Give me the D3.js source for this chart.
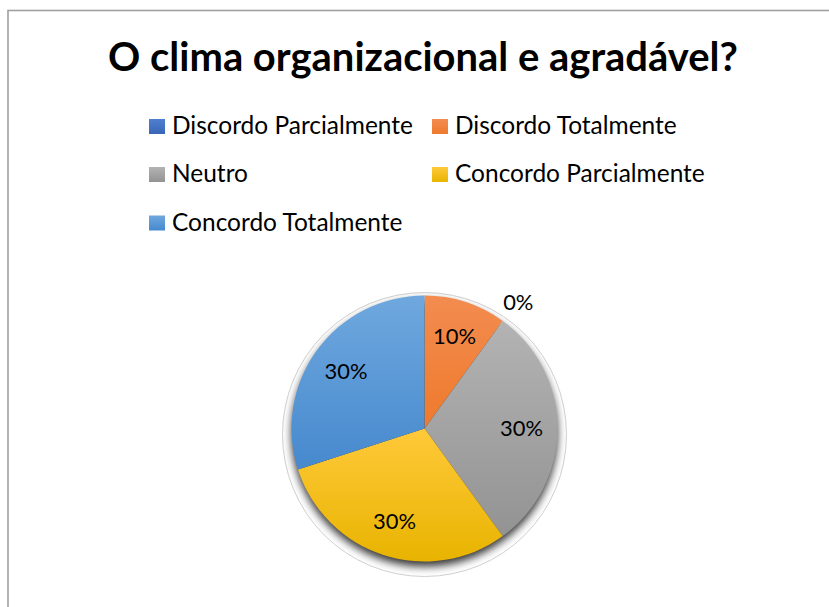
<!DOCTYPE html>
<html>
<head>
<meta charset="utf-8">
<script src="https://cdn.jsdelivr.net/npm/d3@7"></script>
<style>
  html, body { margin: 0; padding: 0; background: #fff; }
  svg { display: block; font-family: Lato, "Open Sans", sans-serif; }
</style>
</head>
<body>
<div id="chart"></div>
<script>
// chart data
const categories = ["Discordo Parcialmente", "Discordo Totalmente", "Neutro", "Concordo Parcialmente", "Concordo Totalmente"];
const values = [0, 10, 30, 30, 30];
const valueLabels = ["0%", "10%", "30%", "30%", "30%"];
const title = "O clima organizacional e agradável?";

const WIDTH = 829, HEIGHT = 607;
// slice colours: [top, bottom] of the vertical gradient
const colors = [
    ["#4f7fd0", "#3a66b8"],
    ["#f38c50", "#ee7a2c"],
    ["#b3b3b3", "#939393"],
    ["#ffc93a", "#e8b400"],
    ["#6fa8de", "#4689ce"]
];

const svg = d3.select("#chart")
              .append("svg")
              .attr("width", WIDTH)
              .attr("height", HEIGHT);

const defs = svg.append("defs");
colors.forEach((c, i) => {
    const g = defs.append("linearGradient")
                  .attr("id", "grad" + i)
                  .attr("x1", 0).attr("y1", 0).attr("x2", 0).attr("y2", 1);
    g.append("stop").attr("offset", "0%").attr("stop-color", c[0]);
    g.append("stop").attr("offset", "100%").attr("stop-color", c[1]);
});

// chart border (only left and top visible)
svg.append("rect")
   .attr("x", 8).attr("y", 10.5)
   .attr("width", 900).attr("height", 700)
   .attr("fill", "none")
   .attr("stroke", "#a0a0a0")
   .attr("stroke-width", 1.6);

// title, sized to the reference width
const titleText = svg.append("text")
   .attr("x", 423).attr("y", 71)
   .attr("text-anchor", "middle")
   .style("font-weight", "bold")
   .style("font-size", "40px")
   .style("fill", "#000")
   .text(title);
const tw = titleText.node().getComputedTextLength();
titleText.style("font-size", (40 * 630 / tw) + "px");

// legend
const legendPos = [[149, 134], [432, 134], [149, 182], [432, 182], [149, 230.5]];
const legend = svg.append("g");
const items = legend.selectAll("g")
    .data(categories)
    .join("g")
    .attr("transform", (d, i) => `translate(${legendPos[i][0]}, ${legendPos[i][1]})`);
items.append("rect")
     .attr("x", 0).attr("y", -15)
     .attr("width", 16).attr("height", 15)
     .attr("fill", (d, i) => `url(#grad${i})`);
const legendText = items.append("text")
     .attr("x", 23).attr("y", 0)
     .style("font-size", "22px")
     .style("fill", "#000")
     .text(d => d);
const lw = legendText.nodes()[0].getComputedTextLength();
legendText.style("font-size", (22 * 241 / lw) + "px");

// pie
const cx = 424.5, cy = 428.5, RADIUS = 133;
const pieG = svg.append("g").attr("transform", `translate(${cx}, ${cy})`);

// soft shadow ring behind the pie
const blur = defs.append("filter").attr("id", "blur")
                 .attr("x", "-20%").attr("y", "-20%").attr("width", "140%").attr("height", "140%");
blur.append("feGaussianBlur").attr("stdDeviation", 4);
defs.append("clipPath").attr("id", "ringClip")
    .append("circle").attr("cx", 0).attr("cy", 6).attr("r", 142);

pieG.append("circle")
    .attr("cx", 0).attr("cy", 6).attr("r", 142)
    .attr("fill", "#fff")
    .attr("stroke", "#cfcfcf")
    .attr("stroke-width", 1);
pieG.append("g").attr("clip-path", "url(#ringClip)")
    .append("circle")
    .attr("cx", 0).attr("cy", 5).attr("r", RADIUS)
    .attr("fill", "#000")
    .attr("opacity", 0.8)
    .attr("filter", "url(#blur)");

const pie = d3.pie().sort(null).value(d => d);
const arcs = pie(values);
const arc = d3.arc().innerRadius(0).outerRadius(RADIUS);

pieG.selectAll("path.slice")
    .data(arcs)
    .join("path")
    .attr("class", "slice")
    .attr("d", arc)
    .attr("fill", (d, i) => `url(#grad${i})`);

// data labels: inside at ~0.73 r, empty slice outside
const labelArc = d3.arc().innerRadius(97).outerRadius(97);
const outerArc = d3.arc().innerRadius(157).outerRadius(157);
const lbls = pieG.selectAll("text.lbl")
    .data(arcs)
    .join("text")
    .attr("class", "lbl")
    .attr("transform", (d, i) => {
        const p = d.value === 0 ? outerArc.centroid({startAngle: d.startAngle, endAngle: d.startAngle + 1.28})
                                : labelArc.centroid(d);
        return `translate(${p[0]}, ${p[1]})`;
    })
    .attr("text-anchor", "middle")
    .attr("dy", "0.36em")
    .style("font-size", "22px")
    .style("fill", "#000")
    .text((d, i) => valueLabels[i]);
const pw = lbls.nodes()[1].getComputedTextLength();
lbls.style("font-size", (22 * 43 / pw) + "px");
</script>
</body>
</html>
